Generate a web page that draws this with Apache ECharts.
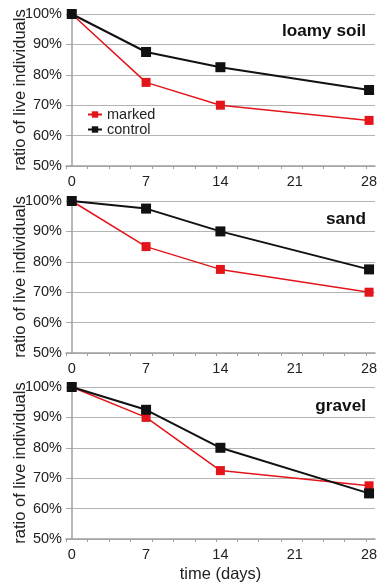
<!DOCTYPE html>
<html><head><meta charset="utf-8">
<script src="https://cdn.jsdelivr.net/npm/echarts@6/dist/echarts.min.js"></script>
<style>html,body{margin:0;padding:0;background:#fff}#c{width:391px;height:584px}</style>
</head><body><div id="c"></div>
<script>
const days = [0, 7, 14, 28];
const xLabels = [0, 7, 14, 21, 28];
const xTicks = [-0.54, 1.5, 3.5, 5.55, 7.6, 9.6, 11.6, 13.6, 15.6, 17.6, 19.7, 21.7, 23.7, 25.7, 27.7];
const panels = ['loamy soil', 'sand', 'gravel'];
const marked = [
  [100, 77.5, 70, 65],
  [100, 85, 77.5, 70],
  [100, 90, 72.5, 67.5]
];
const control = [
  [100, 87.5, 82.5, 75],
  [100, 97.5, 90, 77.5],
  [100, 92.5, 80, 65]
];

const font = 'Liberation Sans, Arial, sans-serif';
const txt = '#222';
const tops = [14, 201, 387];
const gH = 152;
const titleY = [23, 210.5, 398];

const grids = [], xAxes = [], yAxes = [], series = [], titles = [];
panels.forEach((p, i) => {
  grids.push({left: 66, right: 16, top: tops[i], height: gH, containLabel: false, outerBoundsMode: 'none'});
  xAxes.push({
    type: 'value', gridIndex: i, min: -0.54, max: 28.56,
    name: i === 2 ? 'time (days)' : '', nameLocation: 'middle', nameGap: 27, nameMoveOverlap: false,
    nameTextStyle: {fontSize: 16.5, color: txt, fontFamily: font},
    axisLine: {show: true, lineStyle: {color: '#a0a0a0', width: 1.5}},
    axisTick: {show: true, customValues: xTicks, length: 3, lineStyle: {color: '#a0a0a0'}},
    axisLabel: {customValues: xLabels, fontSize: 14.5, color: txt, fontFamily: font, margin: 8},
    splitLine: {show: false}
  });
  yAxes.push({
    type: 'value', gridIndex: i, min: 50, max: 100, interval: 10,
    name: 'ratio of live individuals', nameLocation: 'middle', nameGap: 37, nameRotate: 90,
    nameMoveOverlap: false,
    nameTextStyle: {fontSize: 16.5, color: txt, fontFamily: font},
    axisLine: {show: true, lineStyle: {color: '#a0a0a0', width: 1.5}},
    axisTick: {show: true, length: 3, lineStyle: {color: '#a0a0a0'}},
    axisLabel: {formatter: '{value}%', fontSize: 14.5, color: txt, fontFamily: font, margin: 4},
    splitLine: {show: true, lineStyle: {color: '#b4b4b4', width: 1}}
  });
  series.push({
    name: 'marked', type: 'line', xAxisIndex: i, yAxisIndex: i,
    data: days.map((d, k) => [d, marked[i][k]]),
    symbol: 'rect', symbolSize: 9, color: '#e3151a',
    lineStyle: {width: 1.5, color: '#e3151a'}, itemStyle: {color: '#e3151a'}
  });
  series.push({
    name: 'control', type: 'line', xAxisIndex: i, yAxisIndex: i,
    data: days.map((d, k) => [d, control[i][k]]),
    symbol: 'rect', symbolSize: 10, color: '#111',
    lineStyle: {width: 2, color: '#111'}, itemStyle: {color: '#111'}
  });
  titles.push({
    text: p, right: 25, top: titleY[i], padding: 0,
    textStyle: {fontSize: 17.2, fontWeight: 'bold', color: '#111', fontFamily: font}
  });
});

const chart = echarts.init(document.getElementById('c'), null, {renderer: 'canvas'});
chart.setOption({
  animation: false,
  backgroundColor: '#fff',
  title: titles,
  legend: {
    data: ['marked', 'control'], orient: 'vertical', left: 87, top: 107, padding: 0,
    itemWidth: 14, itemHeight: 8, itemGap: 0,
    textStyle: {fontSize: 14.5, color: txt, fontFamily: font}
  },
  grid: grids, xAxis: xAxes, yAxis: yAxes, series: series
});
</script></body></html>
